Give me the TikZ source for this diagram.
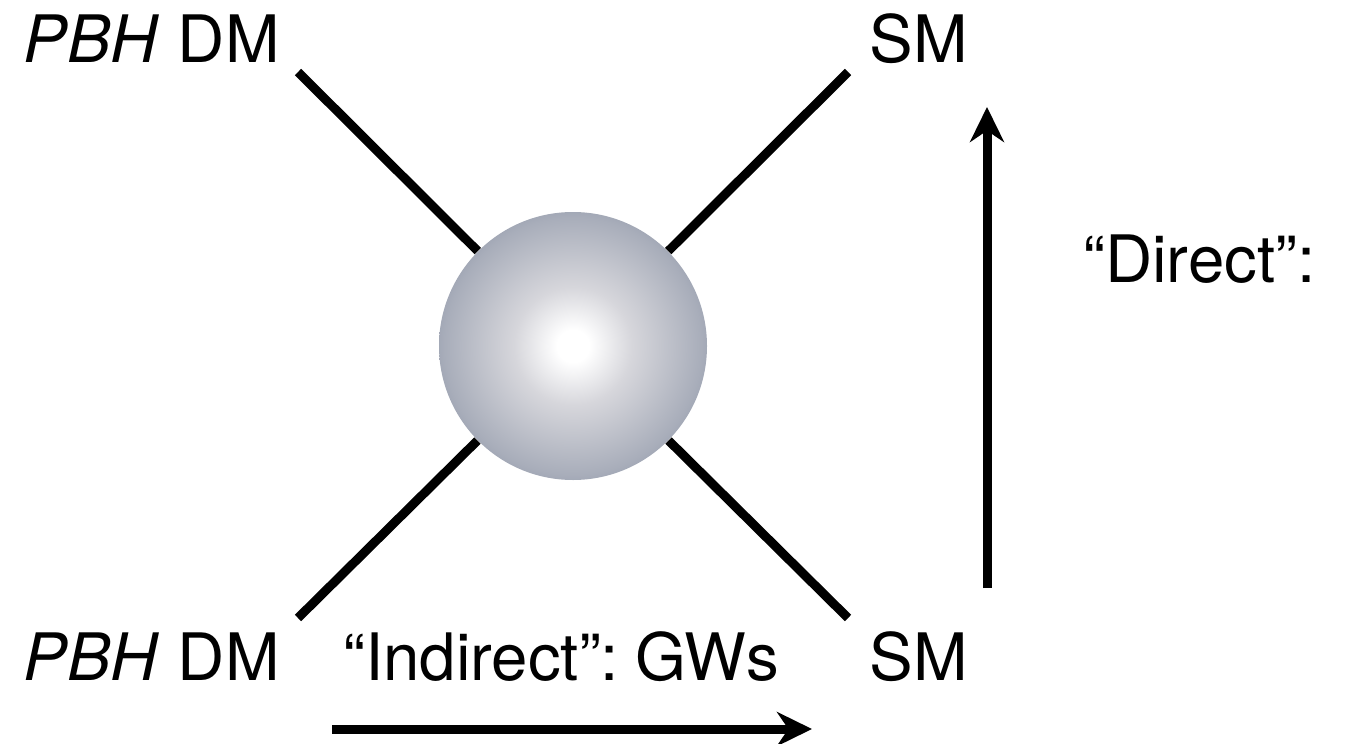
\documentclass[tikz,border=0pt]{standalone}
\usepackage{fontspec}
\setmainfont{TeX Gyre Heros}
\usetikzlibrary{arrows.meta}
\definecolor{shA}{rgb}{0.84,0.84,0.86}
\definecolor{shB}{rgb}{0.66,0.68,0.73}
\definecolor{shC}{rgb}{0.44,0.48,0.57}
\pgfdeclareradialshading{sphereshade}{\pgfpoint{0bp}{0bp}}{color(0bp)=(white); color(3bp)=(white); color(11bp)=(shA); color(24bp)=(shB); color(35.4bp)=(shC); color(50bp)=(shC)}
\tikzset{
  leg/.style={line width=4.5pt},
  arr/.style={line width=4.5pt, -{Stealth[length=17.5pt,width=17pt]}},
  lbl/.style={anchor=base west, inner sep=0pt, font=\fontsize{32.7}{40}\selectfont},
  blob/.style={circle, shading=sphereshade, minimum size=134pt, inner sep=0pt}
}
\begin{document}
\begin{tikzpicture}[x=0.5pt,y=-0.5pt]
\path[use as bounding box] (0,0) rectangle (1365,744);
\node[blob] (s) at (573,346) {};
\coordinate (tl) at (298,72);
\coordinate (tr) at (848,72);
\coordinate (bl) at (298,618);
\coordinate (br) at (848,618);
\draw[leg] (tl) -- (s);
\draw[leg] (tr) -- (s);
\draw[leg] (bl) -- (s);
\draw[leg] (br) -- (s);
\coordinate (vs) at (987,588);
\coordinate (ve) at (987,107);
\draw[arr] (vs) -- (ve);
\coordinate (hs) at (332,729);
\coordinate (he) at (812,729);
\draw[arr] (hs) -- (he);
\node[lbl] (ptl) at (23,62) {\textit{PBH} DM};
\node[lbl] (pbl) at (23,680) {\textit{PBH} DM};
\node[lbl] (smt) at (869,62) {SM};
\node[lbl] (smb) at (869,680) {SM};
\node[lbl] (dir) at (1083,282) {“Direct”:};
\node[lbl] (ind) at (343,680) {“Indirect”:\hspace{-0.12em} GWs};
\end{tikzpicture}
\end{document}
